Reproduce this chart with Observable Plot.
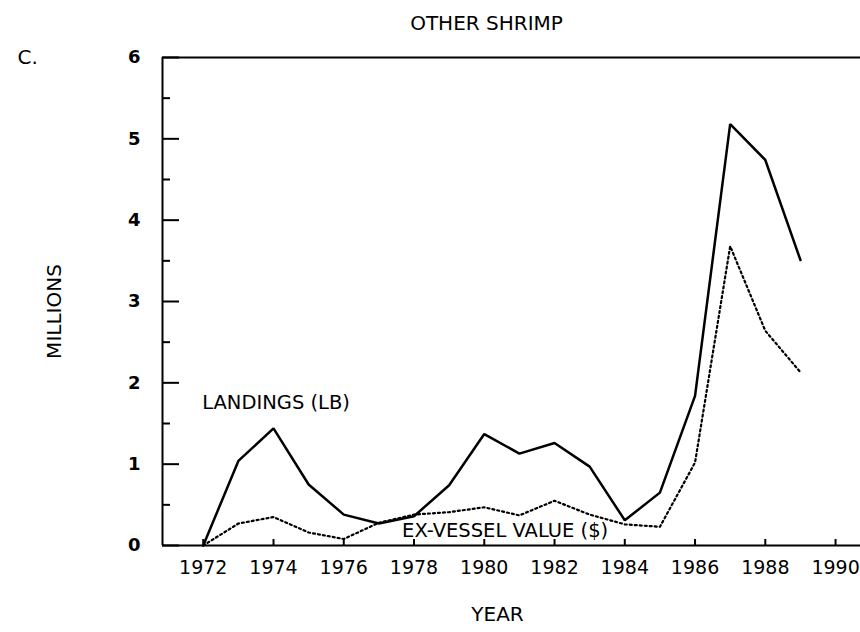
<!DOCTYPE html>
<html>
<head>
<meta charset="utf-8">
<script src="https://cdn.jsdelivr.net/npm/d3@7"></script>
<script src="https://cdn.jsdelivr.net/npm/@observablehq/plot@0.6"></script>
<style>
  html, body { margin: 0; padding: 0; background: #fff; }
  svg { display: block; }
</style>
</head>
<body>
<div id="chart"></div>
<script>
// ---- data ----
const years = [1972, 1973, 1974, 1975, 1976, 1977, 1978, 1979, 1980, 1981, 1982, 1983, 1984, 1985, 1986, 1987, 1988, 1989];
const landings = [0, 1.04, 1.44, 0.75, 0.38, 0.27, 0.36, 0.74, 1.37, 1.13, 1.26, 0.97, 0.31, 0.65, 1.84, 5.18, 4.74, 3.51];
const exVessel = [0, 0.27, 0.35, 0.16, 0.08, 0.28, 0.38, 0.41, 0.47, 0.37, 0.55, 0.38, 0.26, 0.23, 1.02, 3.68, 2.64, 2.13];
const xTicks = [1972, 1974, 1976, 1978, 1980, 1982, 1984, 1986, 1988, 1990];
const yTicks = [0, 1, 2, 3, 4, 5, 6];
const yMinorTicks = [0.5, 1.5, 2.5, 3.5, 4.5, 5.5];
const title = "OTHER SHRIMP";
const panelLabel = "C.";
const yLabel = "MILLIONS";
const xLabel = "YEAR";
const seriesLabels = [
  {label: "LANDINGS (LB)", year: 1971.97, value: 1.75},
  {label: "EX-VESSEL VALUE ($)", year: 1977.66, value: 0.18}
];

const landingData = years.map((y, i) => ({year: y, value: landings[i]}));
const valueData = years.map((y, i) => ({year: y, value: exVessel[i]}));

const font = "DejaVu Sans, sans-serif";
const xDomain = [1970.84, 1990.71];
const W = 860, H = 632, ML = 162, MR = 0, MT = 57, MB = 87;
const plotW = W - ML - MR, plotH = H - MT - MB;

const chart = Plot.plot({
  width: W,
  height: H,
  marginLeft: ML,
  marginRight: MR,
  marginTop: MT,
  marginBottom: MB,
  style: {fontFamily: font, background: "#fff", color: "#000"},
  x: {domain: xDomain},
  y: {domain: [0, 6]},
  marks: [
    // frame lines (bottom, top, left)
    Plot.ruleY([0, 6], {stroke: "#000", strokeWidth: 2}),
    Plot.ruleX([xDomain[0]], {stroke: "#000", strokeWidth: 2}),
    // y axis labels
    Plot.axisY(yTicks, {tickSize: 0, tickPadding: 22, fontSize: 18, fontWeight: "bold", tickFormat: d => String(d), label: null}),
    // inward y ticks (major and minor)
    Plot.tickY(yTicks, {y: d => d, stroke: "#000", strokeWidth: 2, insetRight: plotW - 17}),
    Plot.tickY(yMinorTicks, {y: d => d, stroke: "#000", strokeWidth: 2, insetRight: plotW - 8}),
    // x axis labels
    Plot.axisX(xTicks, {tickSize: 0, tickPadding: 15, fontSize: 19, tickFormat: d => String(d), label: null, style: {letterSpacing: "1.2px"}}),
    // inward x ticks
    Plot.tickX(xTicks, {x: d => d, stroke: "#000", strokeWidth: 2, insetTop: plotH - 6}),
    // series
    Plot.line(landingData, {x: "year", y: "value", stroke: "#000", strokeWidth: 2.5, strokeLinejoin: "miter"}),
    Plot.line(valueData, {x: "year", y: "value", stroke: "#000", strokeWidth: 2.2, strokeDasharray: "2,3"}),
    // series labels
    Plot.text(seriesLabels, {x: "year", y: "value", text: "label", textAnchor: "start", lineAnchor: "middle", fontSize: 19.5, fill: "#000", style: {letterSpacing: "1.4px"}}),
    // title and labels
    Plot.text([title], {frameAnchor: "top", textAnchor: "middle", lineAnchor: "middle", dx: -25, dy: -34, fontSize: 20, fill: "#000", style: {letterSpacing: "2px"}}),
    Plot.text([panelLabel], {frameAnchor: "top-left", textAnchor: "start", lineAnchor: "middle", dx: -145, dy: 0, fontSize: 20, fill: "#000"}),
    Plot.text([yLabel], {frameAnchor: "left", textAnchor: "middle", lineAnchor: "middle", dx: -108, dy: 10, rotate: -90, fontSize: 20, fill: "#000", style: {letterSpacing: "1.2px"}}),
    Plot.text([xLabel], {frameAnchor: "bottom", textAnchor: "middle", lineAnchor: "middle", dx: -14, dy: 69, fontSize: 20, fill: "#000", style: {letterSpacing: "1.5px"}})
  ]
});

document.getElementById("chart").appendChild(chart);
</script>
</body>
</html>
